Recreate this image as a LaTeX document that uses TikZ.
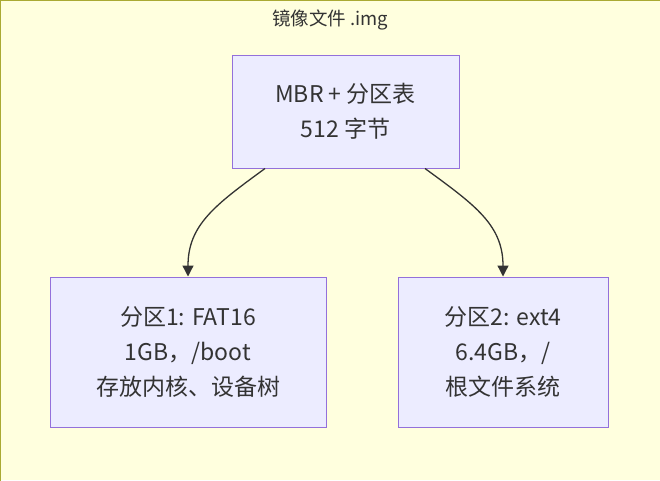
\documentclass[tikz,border=0pt]{standalone}
\usepackage{fontspec}
\setmainfont{Noto Sans CJK SC}
\usetikzlibrary{arrows.meta}

\definecolor{clusterfill}{HTML}{FFFFDE}
\definecolor{clusterline}{HTML}{AAAA33}
\definecolor{boxfill}{HTML}{ECECFF}
\definecolor{boxline}{HTML}{9370DB}
\definecolor{ink}{HTML}{333333}

\tikzset{
  part/.style={draw=boxline, fill=boxfill, line width=1pt, align=center,
    text=ink, font=\fontsize{23}{35}\selectfont, inner sep=0pt},
  link/.style={draw=ink, line width=1.3pt, -{Triangle[length=11pt, width=11pt]}}
}

\begin{document}
\begin{tikzpicture}[x=1pt, y=-1pt]
\useasboundingbox (0, 0) rectangle (660, 480);
\fill[clusterfill] (0, 0) rectangle (660, 480);
\draw[clusterline, line width=1pt] (0.5, 485) -- (0.5, 0.5) -- (665, 0.5);

\node[text=ink, font=\fontsize{18.5}{22}\selectfont] (title) at (330, 20) {镜像文件 .img};

\node[part, minimum width=227pt, minimum height=113pt] (mbr) at (345.5, 111.5) {MBR + 分区表\\512 字节};
\node[part, minimum width=276pt, minimum height=150pt] (p1) at (188, 352) {分区1: FAT16\\1GB，/boot\\存放内核、设备树};
\node[part, minimum width=210pt, minimum height=150pt] (p2) at (503, 352) {分区2: ext4\\6.4GB，/\\根文件系统};

\draw[link] ([xshift=-80.5pt]mbr.south) .. controls (215, 205) and (188, 225) .. (p1.north);
\draw[link] ([xshift=79.5pt]mbr.south) .. controls (475, 205) and (503, 225) .. (p2.north);

\end{tikzpicture}
\end{document}
